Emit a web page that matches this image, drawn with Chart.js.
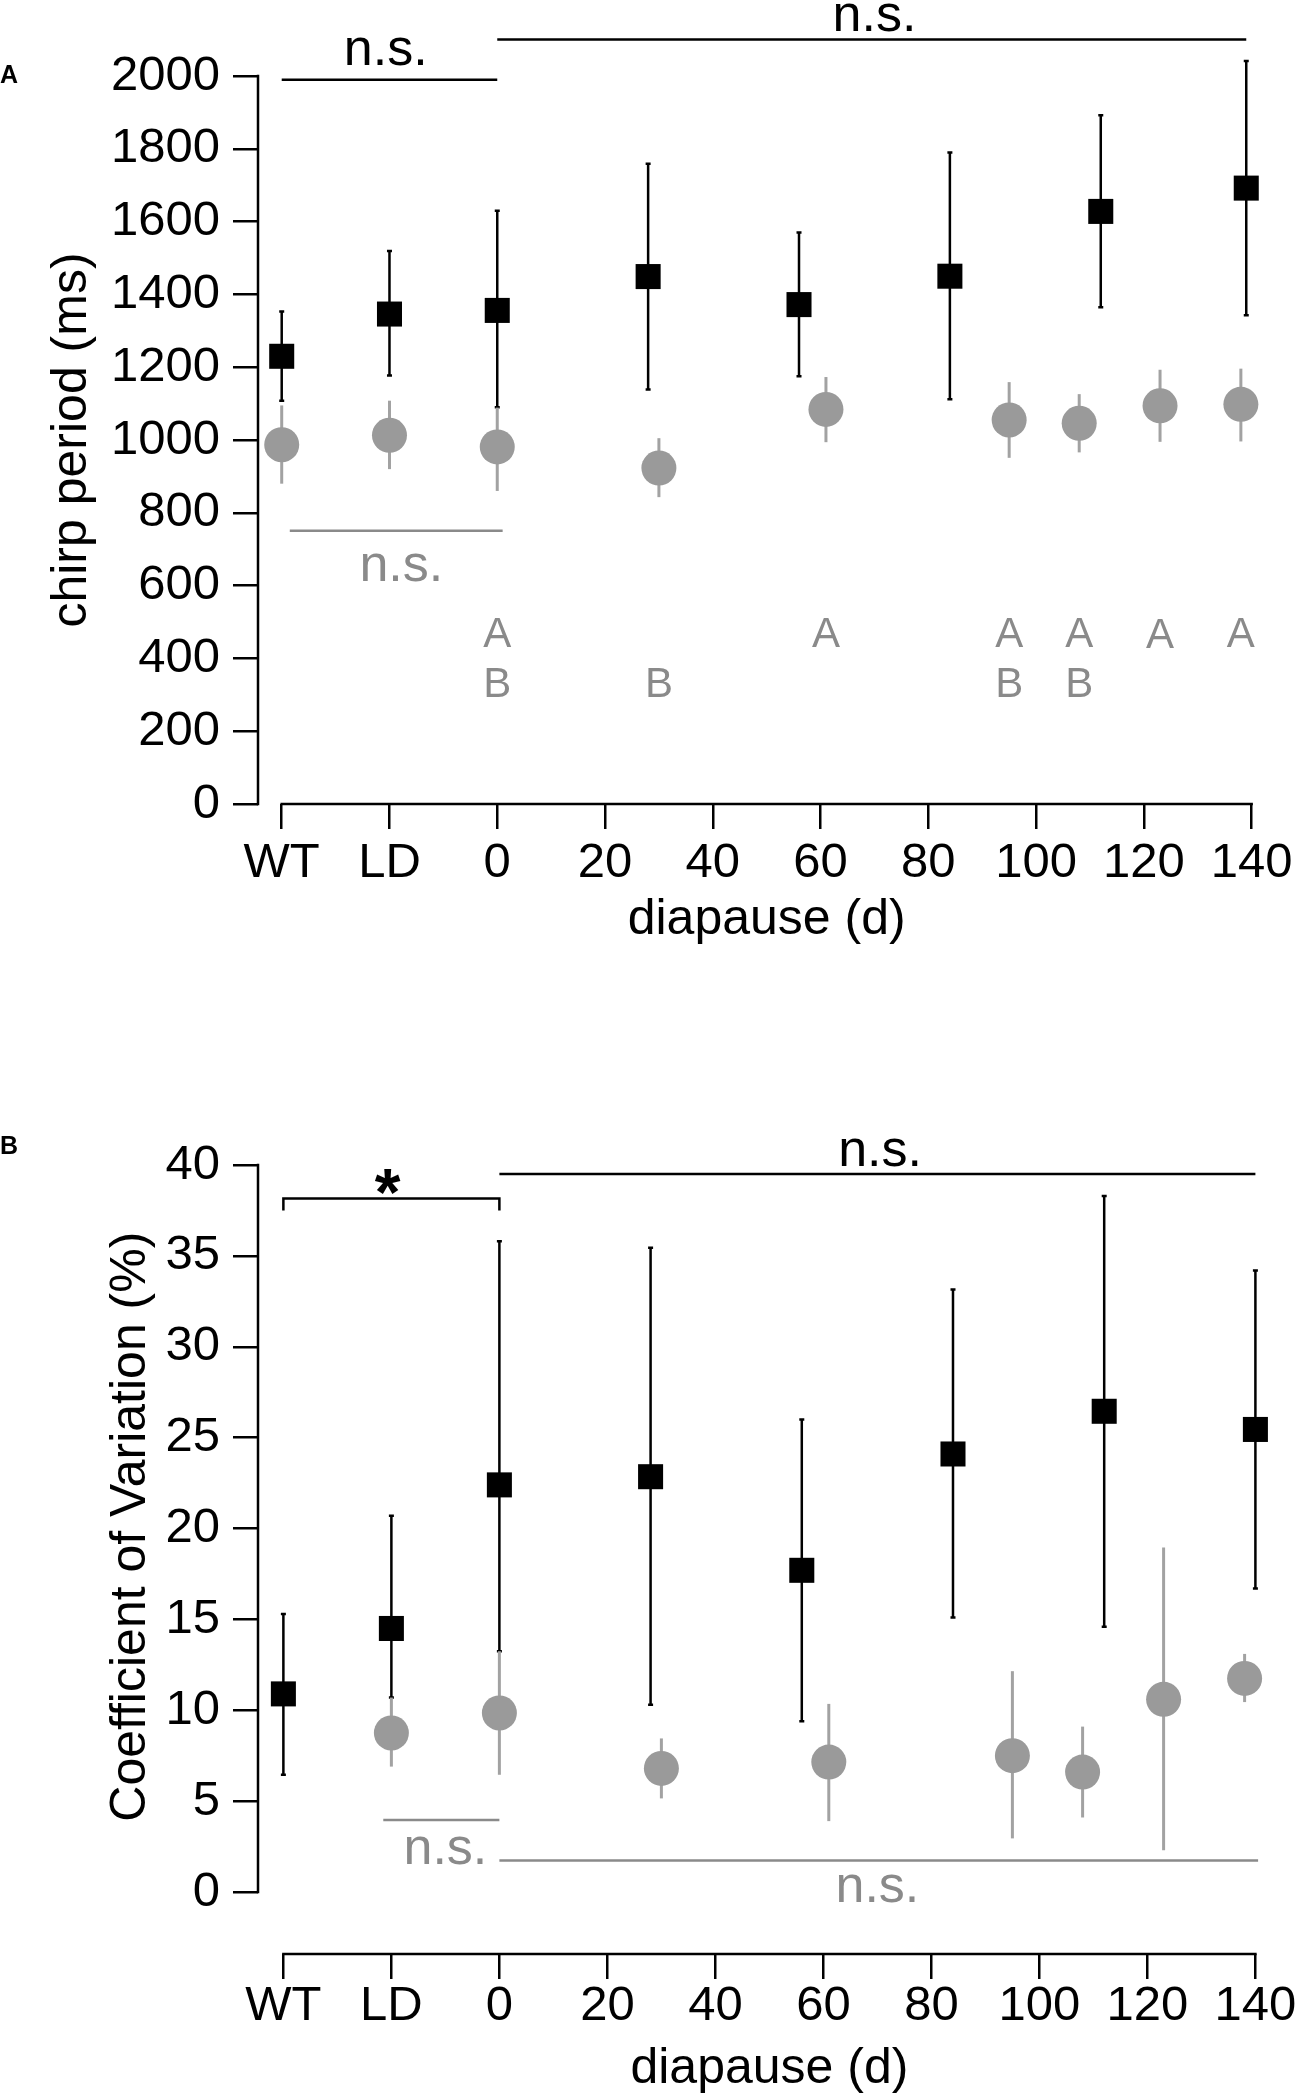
<!DOCTYPE html>
<html>
<head>
<meta charset="utf-8">
<script src="https://cdn.jsdelivr.net/npm/chart.js@4.4.1/dist/chart.umd.min.js"></script>
<style>
  html, body { margin: 0; padding: 0; background: #ffffff; }
  canvas { position: absolute; left: 0; }
  #chartA { top: 0px; }
  #chartB { top: 1010px; }
</style>
</head>
<body>
<canvas id="chartA" width="1298" height="1010"></canvas>
<canvas id="chartB" width="1298" height="1087"></canvas>
<script>
// ---------------- DATA ----------------
const xTickValues = [-40, -20, 0, 20, 40, 60, 80, 100, 120, 140];
const xTickLabels = ['WT', 'LD', '0', '20', '40', '60', '80', '100', '120', '140'];

// Panel A : chirp period (ms)
const yTicksA    = [0, 200, 400, 600, 800, 1000, 1200, 1400, 1600, 1800, 2000];
const blackDaysA = [-40, -20, 0, 28, 56, 84, 112, 139];
const blackMeanA = [1230, 1346, 1356, 1449, 1372, 1450, 1628, 1692];
const blackLowA  = [1108, 1177, 1090, 1139, 1175, 1112, 1365, 1343];
const blackHighA = [1353, 1519, 1630, 1759, 1570, 1790, 1892, 2041];
const grayDaysA  = [-40, -20, 0, 30, 61, 95, 108, 123, 138];
const grayMeanA  = [987, 1013, 981, 923, 1084, 1055, 1046, 1094, 1098];
const grayLowA   = [880, 920, 860, 843, 994, 951, 966, 995, 996];
const grayHighA  = [1095, 1108, 1089, 1005, 1173, 1159, 1126, 1193, 1196];
const letterDaysA = [0, 0, 30, 61, 95, 95, 108, 108, 123, 138];
const letterTextA = ['A', 'B', 'B', 'A', 'A', 'B', 'A', 'B', 'A', 'A'];
const letterBaseA = [432, 294, 294, 432, 432, 294, 432, 294, 428, 432];

// Panel B : coefficient of variation (%)
const yTicksB    = [0, 5, 10, 15, 20, 25, 30, 35, 40];
const blackDaysB = [-40, -20, 0, 28, 56, 84, 112, 140];
const blackMeanB = [10.9, 14.5, 22.4, 22.85, 17.7, 24.1, 26.45, 25.45];
const blackLowB  = [6.45, 10.7, 13.25, 10.3, 9.4, 15.1, 14.6, 16.7];
const blackHighB = [15.3, 20.7, 35.8, 35.45, 26.0, 33.15, 38.3, 34.2];
const grayDaysB  = [-20, 0, 30, 61, 95, 108, 123, 138];
const grayMeanB  = [8.75, 9.85, 6.8, 7.15, 7.5, 6.6, 10.6, 11.75];
const grayLowB   = [6.9, 6.45, 5.15, 3.9, 2.95, 4.1, 2.3, 10.45];
const grayHighB  = [10.7, 13.25, 8.45, 10.35, 12.15, 9.1, 18.95, 13.1];

// significance annotations (data units)
const sigA = [
  { x1: -40, x2: 0, y: 1990, text: 'n.s.', tx: -20.7, ty: 2031, gray: false },
  { x1: 0, x2: 139, y: 2100, text: 'n.s.', tx: 70, ty: 2123, gray: false },
  { x1: -38.5, x2: 1, y: 751, text: 'n.s.', tx: -17.8, ty: 613, gray: true }
];
const sigB = [
  { x1: -40, x2: 0, y: 38.15, drop: 37.5, text: '*', tx: -20.7, ty: 37.25, gray: false, star: true },
  { x1: 0, x2: 140, y: 39.5, text: 'n.s.', tx: 70.5, ty: 39.94, gray: false },
  { x1: -21.5, x2: 0, y: 3.96, text: 'n.s.', tx: -10, ty: 1.54, gray: true },
  { x1: 0, x2: 140.5, y: 1.74, text: 'n.s.', tx: 70, ty: -0.55, gray: true }
];

// ---------------- STYLE ----------------
const FONT = "'Liberation Sans', Arial, Helvetica, sans-serif";
const BLACK = '#000000';
const GRAY_MARK = '#9a9a9a';
const GRAY_BAR = '#a2a2a2';
const GRAY_TEXT = '#8a8a8a';

function toPoints(days, vals) { return days.map((d, i) => ({ x: d, y: vals[i] })); }

function makeAnnotPlugin(cfg) {
  return {
    id: 'annot',
    beforeDatasetDraw(chart, args) {
      const ds = chart.data.datasets[args.index];
      if (!ds.errLow) return;
      const ctx = chart.ctx, ys = chart.scales.y;
      ctx.save();
      ctx.strokeStyle = ds.errColor;
      ctx.lineWidth = ds.errWidth;
      ctx.lineCap = 'butt';
      args.meta.data.forEach((pt, i) => {
        const x = pt.x;
        const y1 = ys.getPixelForValue(ds.errLow[i]);
        const y2 = ys.getPixelForValue(ds.errHigh[i]);
        ctx.beginPath();
        ctx.moveTo(x, y1); ctx.lineTo(x, y2);
        if (ds.errCap) {
          ctx.moveTo(x - ds.errCap, y1); ctx.lineTo(x + ds.errCap, y1);
          ctx.moveTo(x - ds.errCap, y2); ctx.lineTo(x + ds.errCap, y2);
        }
        ctx.stroke();
      });
      ctx.restore();
    },
    afterDraw(chart) {
      const ctx = chart.ctx, xs = chart.scales.x, ys = chart.scales.y, ca = chart.chartArea;
      ctx.save();
      // detached axis lines
      ctx.strokeStyle = BLACK;
      ctx.lineWidth = 2.5;
      ctx.lineCap = 'square';
      ctx.beginPath();
      ctx.moveTo(ca.left, ys.getPixelForValue(cfg.yFrom));
      ctx.lineTo(ca.left, ys.getPixelForValue(cfg.yTo));
      ctx.moveTo(xs.getPixelForValue(cfg.xFrom), ca.bottom);
      ctx.lineTo(xs.getPixelForValue(cfg.xTo), ca.bottom);
      ctx.stroke();

      // significance lines and texts
      cfg.sig.forEach(s => {
        const col = s.gray ? GRAY_TEXT : BLACK;
        ctx.strokeStyle = col;
        ctx.lineWidth = 2.5;
        ctx.lineCap = 'butt';
        const px1 = xs.getPixelForValue(s.x1), px2 = xs.getPixelForValue(s.x2);
        const py = ys.getPixelForValue(s.y);
        ctx.beginPath();
        ctx.moveTo(px1, py); ctx.lineTo(px2, py);
        if (s.drop !== undefined) {
          const pd = ys.getPixelForValue(s.drop);
          ctx.moveTo(px1, py - 1.25); ctx.lineTo(px1, pd);
          ctx.moveTo(px2, py - 1.25); ctx.lineTo(px2, pd);
        }
        ctx.stroke();
        ctx.fillStyle = col;
        ctx.font = s.star ? `bold 66px ${FONT}` : `52px ${FONT}`;
        ctx.textAlign = 'center';
        ctx.textBaseline = 'alphabetic';
        ctx.fillText(s.text, xs.getPixelForValue(s.tx), ys.getPixelForValue(s.ty));
      });

      // group letters
      if (cfg.letters) {
        ctx.fillStyle = GRAY_TEXT;
        ctx.font = `42px ${FONT}`;
        ctx.textAlign = 'center';
        ctx.textBaseline = 'alphabetic';
        cfg.letters.days.forEach((d, i) => {
          ctx.fillText(cfg.letters.text[i], xs.getPixelForValue(d), ys.getPixelForValue(cfg.letters.base[i]));
        });
      }

      // axis titles
      ctx.fillStyle = BLACK;
      ctx.font = `50px ${FONT}`;
      ctx.textAlign = 'center';
      ctx.textBaseline = 'middle';
      ctx.save();
      ctx.translate(cfg.yTitle.px, ys.getPixelForValue(cfg.yTitle.v));
      ctx.rotate(-Math.PI / 2);
      ctx.fillText(cfg.yTitle.text, 0, 0);
      ctx.restore();
      ctx.fillText(cfg.xTitle.text, xs.getPixelForValue(cfg.xTitle.v), ca.bottom + cfg.xTitle.dy);

      // panel label
      ctx.font = `bold 25px ${FONT}`;
      ctx.textAlign = 'left';
      ctx.fillText(cfg.label.text, 0, cfg.label.py);
      ctx.restore();
    }
  };
}

function makeChart(canvasId, p) {
  const tickFont = { family: FONT, size: 49 };
  return new Chart(document.getElementById(canvasId), {
    type: 'scatter',
    data: {
      datasets: [
        {
          label: 'black',
          data: toPoints(p.blackDays, p.blackMean),
          errLow: p.blackLow, errHigh: p.blackHigh,
          errColor: BLACK, errWidth: 2.5, errCap: 2.5,
          pointStyle: 'rect', pointRadius: 17.7,
          backgroundColor: BLACK, borderWidth: 0,
          order: 2, clip: false
        },
        {
          label: 'gray',
          data: toPoints(p.grayDays, p.grayMean),
          errLow: p.grayLow, errHigh: p.grayHigh,
          errColor: GRAY_BAR, errWidth: 3, errCap: 0,
          pointStyle: 'circle', pointRadius: 17.5,
          backgroundColor: GRAY_MARK, borderWidth: 0,
          order: 1, clip: false
        }
      ]
    },
    options: {
      animation: false,
      responsive: false,
      devicePixelRatio: 1,
      events: [],
      layout: { padding: { left: 0, right: p.padRight, top: p.padTop, bottom: 0 } },
      plugins: { legend: { display: false }, tooltip: { enabled: false } },
      scales: {
        x: {
          type: 'linear', position: 'bottom', min: p.xMin, max: p.xMax,
          afterBuildTicks: s => { s.ticks = xTickValues.map(v => ({ value: v })); },
          afterFit: s => { s.height = p.xHeight; },
          ticks: {
            autoSkip: false, maxRotation: 0, minRotation: 0, padding: p.xPad,
            color: BLACK, font: tickFont,
            callback: v => xTickLabels[xTickValues.indexOf(v)]
          },
          grid: { display: true, drawOnChartArea: false, drawTicks: true, tickLength: 25, tickWidth: 2.5, tickColor: BLACK, lineWidth: 2.5, color: BLACK },
          border: { display: false }
        },
        y: {
          type: 'linear', position: 'left', min: p.yMin, max: p.yMax,
          afterBuildTicks: s => { s.ticks = p.yTicks.map(v => ({ value: v })); },
          afterFit: s => { s.width = 258; },
          ticks: { autoSkip: false, padding: 13, color: BLACK, font: tickFont, callback: v => String(v) },
          grid: { display: true, drawOnChartArea: false, drawTicks: true, tickLength: 25, tickWidth: 2.5, tickColor: BLACK, lineWidth: 2.5, color: BLACK },
          border: { display: false }
        }
      }
    },
    plugins: [makeAnnotPlugin(p.annot)]
  });
}

makeChart('chartA', {
  blackDays: blackDaysA, blackMean: blackMeanA, blackLow: blackLowA, blackHigh: blackHighA,
  grayDays: grayDaysA, grayMean: grayMeanA, grayLow: grayLowA, grayHigh: grayHighA,
  yTicks: yTicksA, yMin: 0, yMax: 2000, xMin: -44.4, xMax: 143,
  padTop: 76, padRight: 30, xHeight: 206, xPad: 5,
  annot: {
    yFrom: 0, yTo: 2000, xFrom: -40, xTo: 140, sig: sigA,
    letters: { days: letterDaysA, text: letterTextA, base: letterBaseA },
    yTitle: { text: 'chirp period (ms)', px: 72.6, v: 1000 },
    xTitle: { text: 'diapause (d)', v: 50, dy: 116 },
    label: { text: 'A', py: 76 }
  }
});

makeChart('chartB', {
  blackDays: blackDaysB, blackMean: blackMeanB, blackLow: blackLowB, blackHigh: blackHighB,
  grayDays: grayDaysB, grayMean: grayMeanB, grayLow: grayLowB, grayHigh: grayHighB,
  yTicks: yTicksB, yMin: -3.411, yMax: 40, xMin: -44.7, xMax: 143,
  padTop: 155, padRight: 26.4, xHeight: 143, xPad: -2,
  annot: {
    yFrom: 0, yTo: 40, xFrom: -40, xTo: 140, sig: sigB,
    letters: null,
    yTitle: { text: 'Coefficient of Variation (%)', px: 131.7, v: 20.1 },
    xTitle: { text: 'diapause (d)', v: 50, dy: 115 },
    label: { text: 'B', py: 137 }
  }
});
</script>
</body>
</html>
